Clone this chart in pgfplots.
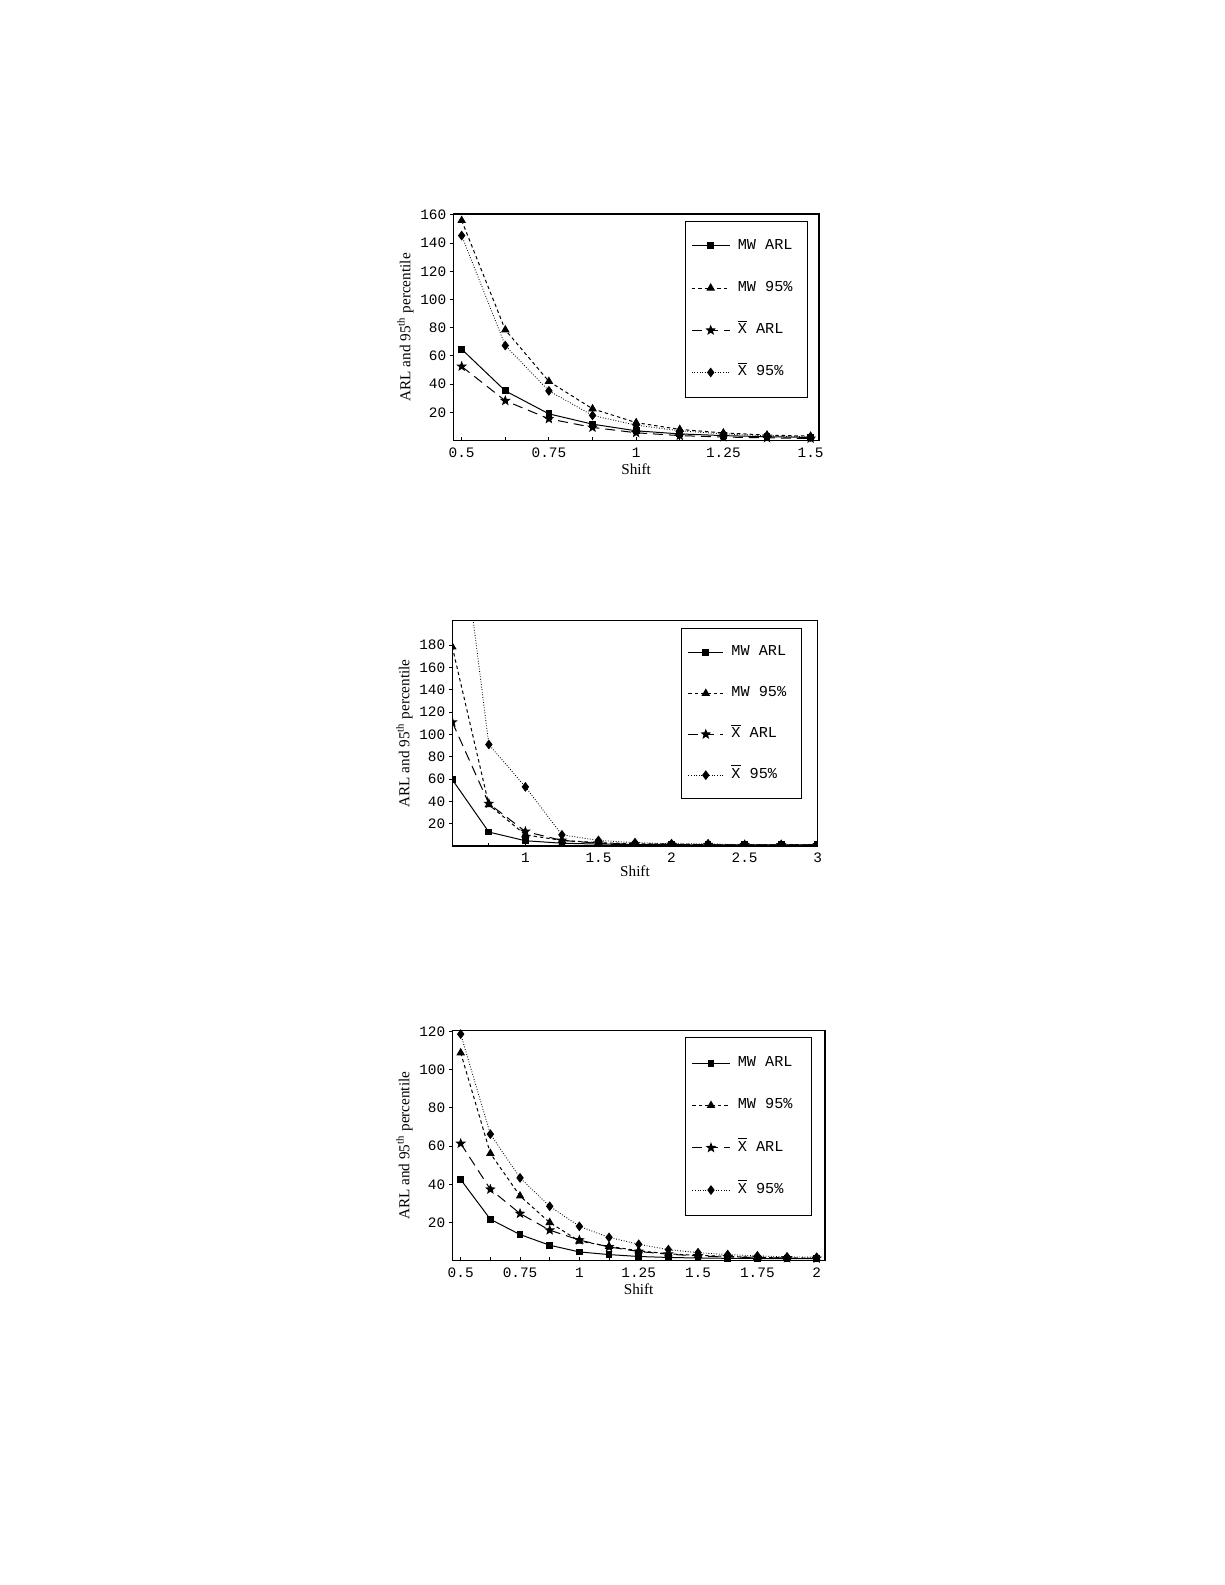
\documentclass[border=0pt]{standalone}
\usepackage{fontspec}
\setmainfont{Liberation Serif}
\setmonofont{Liberation Mono}
\usepackage{pgfplots}
\pgfplotsset{compat=1.18}
\usetikzlibrary{plotmarks}

\pgfdeclareplotmark{fstar}{%
  \pgfpathmoveto{\pgfpointpolar{90}{\pgfplotmarksize}}%
  \pgfpathlineto{\pgfpointpolar{126}{0.42\pgfplotmarksize}}%
  \pgfpathlineto{\pgfpointpolar{162}{\pgfplotmarksize}}%
  \pgfpathlineto{\pgfpointpolar{198}{0.42\pgfplotmarksize}}%
  \pgfpathlineto{\pgfpointpolar{234}{\pgfplotmarksize}}%
  \pgfpathlineto{\pgfpointpolar{270}{0.42\pgfplotmarksize}}%
  \pgfpathlineto{\pgfpointpolar{306}{\pgfplotmarksize}}%
  \pgfpathlineto{\pgfpointpolar{342}{0.42\pgfplotmarksize}}%
  \pgfpathlineto{\pgfpointpolar{18}{\pgfplotmarksize}}%
  \pgfpathlineto{\pgfpointpolar{54}{0.42\pgfplotmarksize}}%
  \pgfpathclose
  \pgfusepathqfillstroke}

\newcommand{\xbar}{$\overline{\mbox{X}}$}
\newcommand{\msp}{\hspace{0.6em}}

\pgfplotsset{
  arlaxis/.style={
    scale only axis,
    axis line style={line width=0.55pt},
    tick pos=left, tick align=inside, major tick length=1.6pt,
    tick style={black, line width=0.5pt},
    ytick style={xshift=-1.6pt},
    ticklabel style={font=\fontsize{7.2}{8}\selectfont\ttfamily},
    label style={font=\fontsize{7.6}{9}\selectfont},
    xlabel={Shift},
    ylabel={ARL and 95\textsuperscript{th} percentile},
    xlabel style={yshift=3.8pt},
    ylabel style={yshift=-3.5pt},
    legend cell align=left,
  },
  legbox/.style n args={6}{% xshift, yshift, inner ysep, row sep, image length, text width
    legend style={at={(1,1)}, anchor=north east, xshift=-#1, yshift=-#2,
      draw=black, line width=0.5pt, fill=white,
      inner xsep=3pt, inner ysep=#3, row sep=#4, column sep=3.8pt,
      font=\fontsize{7.6}{8}\selectfont\ttfamily,
      nodes={inner sep=0pt, text width=#6, text height=5pt, text depth=1.5pt}},
    legend image code/.code={\draw[mark repeat=2,mark phase=2,##1] plot coordinates {(0pt,0pt) (#5/2,0pt) (#5,0pt)};},
  },
  mwarl/.style={black, line width=0.5pt, solid, mark=square*, mark size=1.45pt, mark options={solid}},
  mwpct/.style={black, line width=0.5pt, dash pattern=on 1.7pt off 1.5pt, mark=triangle*, mark size=2pt, mark options={solid}},
  xarl/.style={black, line width=0.5pt, dash pattern=on 5pt off 3pt, mark=fstar, mark size=2.1pt, mark options={solid}},
  xpct/.style={black, line width=0.45pt, dash pattern=on 0.4pt off 0.9pt, mark=diamond*, mark size=2.1pt, mark options={solid}},
}

\begin{document}
\begin{tikzpicture}
\path[use as bounding box] (0pt,0pt) rectangle (612.5pt,792.5pt);

% ---------- Plot 1 ----------
\begin{axis}[arlaxis,
  at={(226.65pt,572.15pt)}, anchor=south west,
  width=182.85pt, height=113.35pt,
  xmin=0.476, xmax=1.524, ymin=0, ymax=160.6,
  xtick={0.5,0.625,0.75,0.875,1,1.125,1.25,1.375,1.5},
  xticklabels={0.5,{},0.75,{},1,{},1.25,{},1.5},
  ytick={20,40,60,80,100,120,140,160},
  yticklabels={20,40,60,80,100,120,140,160},
  legbox={5.35pt}{3.35pt}{9.1pt}{14.6pt}{19pt}{32pt},
]
\addplot[mwarl] coordinates {(0.5,64.8)(0.625,35.3)(0.75,19)(0.875,11.7)(1,7)(1.125,4.8)(1.25,3.6)(1.375,2.8)(1.5,2.3)};
\addlegendentry{MW\msp ARL}
\addplot[mwpct] coordinates {(0.5,156)(0.625,78.5)(0.75,42)(0.875,22.6)(1,12.8)(1.125,8)(1.25,5.5)(1.375,4)(1.5,3.2)};
\addlegendentry{MW\msp 95\%}
\addplot[xarl] coordinates {(0.5,52.6)(0.625,28.3)(0.75,15.5)(0.875,9.4)(1,5.6)(1.125,3.6)(1.25,2.6)(1.375,2)(1.5,1.6)};
\addlegendentry{\xbar\msp ARL}
\addplot[xpct] coordinates {(0.5,145.3)(0.625,67.4)(0.75,35.3)(0.875,17.9)(1,11)(1.125,7)(1.25,4.8)(1.375,3.5)(1.5,2.6)};
\addlegendentry{\xbar\msp 95\%}
\end{axis}

% ---------- Plot 2 ----------
\begin{axis}[arlaxis,
  at={(226.15pt,369.5pt)}, anchor=south west,
  width=182.7pt, height=112.65pt,
  xmin=0.5, xmax=3, ymin=0, ymax=202,
  clip marker paths=true,
  xtick={0.5,0.75,1,1.25,1.5,1.75,2,2.25,2.5,2.75,3},
  xticklabels={{},{},1,{},1.5,{},2,{},2.5,{},3},
  ytick={20,40,60,80,100,120,140,160,180},
  yticklabels={20,40,60,80,100,120,140,160,180},
  xlabel style={yshift=1.5pt},
  legbox={8pt}{3.8pt}{8.6pt}{13.95pt}{17.5pt}{31.9pt},
]
\addplot[mwarl] coordinates {(0.5,59.5)(0.75,12.5)(1,4.7)(1.25,2.5)(1.5,1.7)(1.75,1.3)(2,1.15)(2.25,1.07)(2.5,1.03)(2.75,1.01)(3,1)};
\addlegendentry{MW\msp ARL}
\addplot[mwpct] coordinates {(0.5,178.5)(0.75,37)(1,10)(1.25,5)(1.5,3)(1.75,2)(2,2)(2.25,1)(2.5,1)(2.75,1)(3,1)};
\addlegendentry{MW\msp 95\%}
\addplot[xarl] coordinates {(0.5,111)(0.75,38)(1,13)(1.25,5)(1.5,2.5)(1.75,1.6)(2,1.3)(2.25,1.1)(2.5,1.05)(2.75,1.02)(3,1)};
\addlegendentry{\xbar\msp ARL}
\addplot[xpct] coordinates {(0.5,351)(0.75,91)(1,53)(1.25,10)(1.5,5)(1.75,3)(2,2)(2.25,2)(2.5,1)(2.75,1)(3,1)};
\addlegendentry{\xbar\msp 95\%}
\end{axis}

% ---------- Plot 3 ----------
\begin{axis}[arlaxis,
  at={(226.15pt,162.15pt)}, anchor=south west,
  width=186.35pt, height=115pt,
  xmin=0.4646, xmax=2.035, ymin=0, ymax=120.5,
  xtick={0.5,0.625,0.75,0.875,1,1.125,1.25,1.375,1.5,1.625,1.75,1.875,2},
  xticklabels={0.5,{},0.75,{},1,{},1.25,{},1.5,{},1.75,{},2},
  ytick={20,40,60,80,100,120},
  yticklabels={20,40,60,80,100,120},
  legbox={6.65pt}{3.3pt}{9.45pt}{14.65pt}{18.7pt}{33.7pt},
]
\addplot[mwarl] coordinates {(0.5,42.5)(0.625,21.7)(0.75,13.7)(0.875,8.1)(1,4.6)(1.125,3.2)(1.25,2.2)(1.375,1.7)(1.5,1.4)(1.625,1.25)(1.75,1.15)(1.875,1.1)(2,1.05)};
\addlegendentry{MW\msp ARL}
\addplot[mwpct] coordinates {(0.5,108.9)(0.625,56.2)(0.75,33.9)(0.875,20)(1,10.3)(1.125,7.5)(1.25,5.2)(1.375,3.6)(1.5,2.8)(1.625,2.2)(1.75,1.8)(1.875,1.5)(2,1.2)};
\addlegendentry{MW\msp 95\%}
\addplot[xarl] coordinates {(0.5,61.4)(0.625,37.4)(0.75,24.7)(0.875,16)(1,10.8)(1.125,7.2)(1.25,4.8)(1.375,3.4)(1.5,2.5)(1.625,2)(1.75,1.6)(1.875,1.4)(2,1.2)};
\addlegendentry{\xbar\msp ARL}
\addplot[xpct] coordinates {(0.5,118.7)(0.625,66.3)(0.75,43.4)(0.875,28.5)(1,18)(1.125,12.2)(1.25,8.6)(1.375,5.8)(1.5,4.2)(1.625,3.2)(1.75,2.5)(1.875,2)(2,1.8)};
\addlegendentry{\xbar\msp 95\%}
\end{axis}
\end{tikzpicture}
\end{document}
